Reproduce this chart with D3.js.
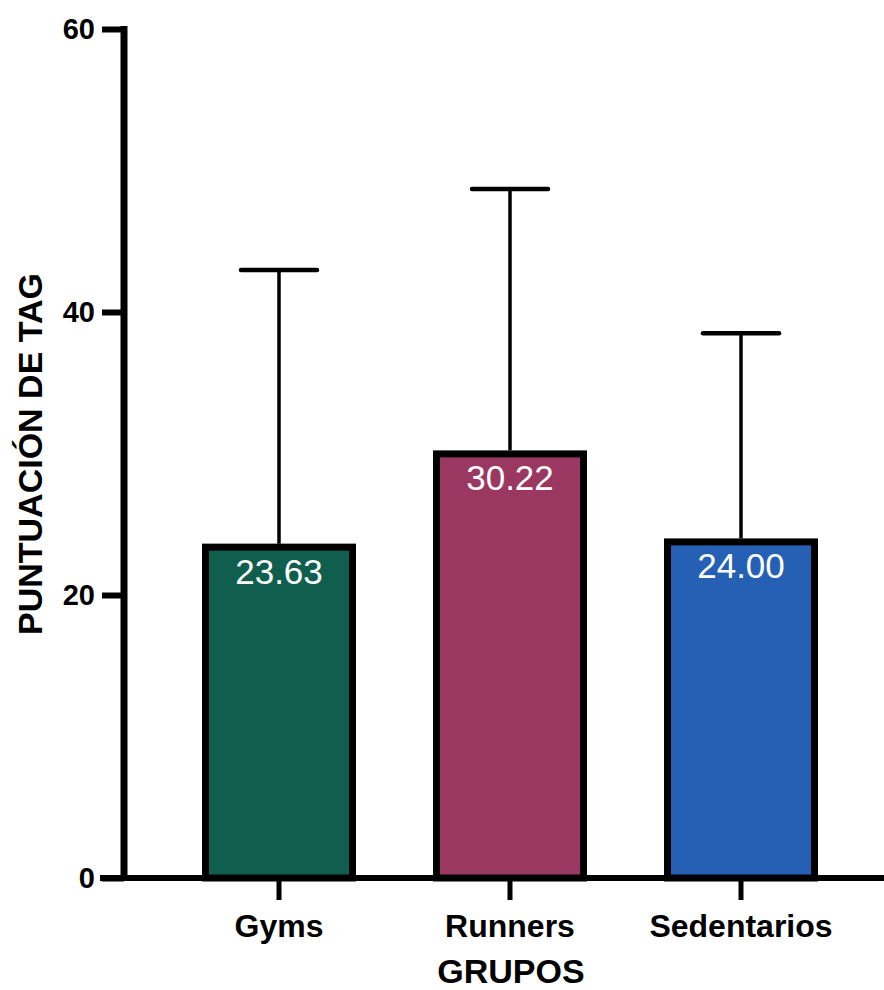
<!DOCTYPE html>
<html>
<head>
<meta charset="utf-8">
<script src="https://cdn.jsdelivr.net/npm/d3@7"></script>
<style>
  body { margin: 0; background: #fff; }
  svg { display: block; font-family: "Liberation Sans", Arial, Helvetica, sans-serif; }
</style>
</head>
<body>
<div id="chart"></div>
<script>
// data
var groups = ["Gyms", "Runners", "Sedentarios"];
var means  = [23.63, 30.22, 24.00];
var sds    = [19.34, 18.48, 14.5];
var colors = ["#105e4e", "#9a3862", "#2660b4"];
var yTicks = [0, 20, 40, 60];

var width = 884, height = 990;

var svg = d3.select("#chart")
  .append("svg")
    .attr("width", width)
    .attr("height", height);

var x = d3.scaleBand()
  .domain(groups)
  .range([125, 895])
  .paddingInner(1/3)
  .paddingOuter(1/3);

var y = d3.scaleLinear()
  .domain([0, 60])
  .range([878, 29]);

var border = 7;

// error bars (drawn first so the bar covers the stem base)
var err = svg.append("g");
groups.forEach(function(g, i) {
  var cx = x(g) + x.bandwidth() / 2;
  err.append("line")
    .attr("x1", cx).attr("x2", cx)
    .attr("y1", y(means[i])).attr("y2", y(means[i] + sds[i]))
    .attr("stroke", "#000").attr("stroke-width", 3.5);
  err.append("line")
    .attr("x1", cx - 38).attr("x2", cx + 38)
    .attr("y1", y(means[i] + sds[i])).attr("y2", y(means[i] + sds[i]))
    .attr("stroke", "#000").attr("stroke-width", 4.5)
    .attr("stroke-linecap", "round");
});

// bars, border drawn inside the value edge
svg.append("g").selectAll("rect")
  .data(groups)
  .join("rect")
    .attr("x", function(d) { return x(d) + border / 2; })
    .attr("width", x.bandwidth() - border)
    .attr("y", function(d, i) { return y(means[i]) + border / 2; })
    .attr("height", function(d, i) { return y(0) - y(means[i]) - border / 2; })
    .attr("fill", function(d, i) { return colors[i]; })
    .attr("stroke", "#000")
    .attr("stroke-width", border);

// value labels
svg.append("g").selectAll("text")
  .data(groups)
  .join("text")
    .attr("x", function(d) { return x(d) + x.bandwidth() / 2; })
    .attr("y", function(d, i) { return y(means[i]) + 40; })
    .attr("text-anchor", "middle")
    .attr("fill", "#fff")
    .attr("font-size", 35)
    .text(function(d, i) { return means[i].toFixed(2); });

// y axis
var yAxis = svg.append("g")
  .attr("transform", "translate(124,0)")
  .call(d3.axisLeft(y)
    .tickValues(yTicks)
    .tickSize(22)
    .tickSizeOuter(0)
    .tickPadding(7));
yAxis.select(".domain")
  .attr("stroke-width", 7)
  .attr("d", "M0," + (y(60) - 3) + "V" + (y(0) + 3));
yAxis.selectAll(".tick line").attr("stroke-width", 6);
yAxis.selectAll(".tick text")
  .attr("font-size", 29)
  .attr("font-weight", "bold")
  .attr("fill", "#000");

// x axis
var xAxis = svg.append("g")
  .attr("transform", "translate(0," + y(0) + ")")
  .call(d3.axisBottom(x)
    .tickSize(22)
    .tickSizeOuter(0)
    .tickPadding(14));
xAxis.select(".domain")
  .attr("stroke-width", 6)
  .attr("d", "M100,0H" + width);
xAxis.selectAll(".tick line").attr("stroke-width", 5);
xAxis.selectAll(".tick text")
  .attr("font-size", 32)
  .attr("font-weight", "bold")
  .attr("fill", "#000");

// axis titles
svg.append("text")
  .attr("transform", "translate(42,454) rotate(-90)")
  .attr("text-anchor", "middle")
  .attr("font-size", 34)
  .attr("font-weight", "bold")
  .text("PUNTUACIÓN DE TAG");

svg.append("text")
  .attr("x", 511)
  .attr("y", 983)
  .attr("text-anchor", "middle")
  .attr("font-size", 34)
  .attr("font-weight", "bold")
  .text("GRUPOS");
</script>
</body>
</html>
